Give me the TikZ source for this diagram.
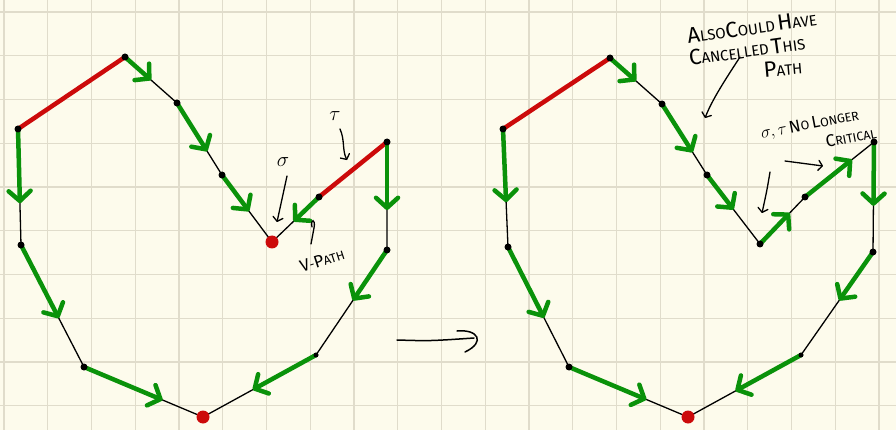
\documentclass[tikz,border=0pt]{standalone}
\usepackage{fontspec}
\setsansfont{Fira Sans}
\usetikzlibrary{arrows.meta,calc}
\definecolor{paper}{HTML}{FDFBEC}
\definecolor{gridc}{HTML}{E0DCCB}
\definecolor{pgreen}{HTML}{0A920A}
\definecolor{pred}{HTML}{CC0A0A}
\newcommand{\hcap}[2]{{\fontsize{22}{22}\selectfont #1}{\fontsize{15}{15}\selectfont #2}}
\newcommand{\hcaps}[2]{{\fontsize{17}{17}\selectfont #1}{\fontsize{12.5}{12.5}\selectfont #2}}
\tikzset{
  edge/.style={line width=1.3pt, black},
  redge/.style={line width=4.5pt, pred, line cap=round},
  garrow/.style={line width=4.5pt, pgreen, line cap=round, -{Straight Barb[length=10pt,width=22pt,round]}},
  vdot/.style={circle, fill=black, inner sep=0pt, minimum size=7pt},
  rdot/.style={circle, fill=pred, inner sep=0pt, minimum size=13pt},
  note/.style={line width=1.3pt, line cap=round, -{Straight Barb[length=4pt,width=10pt,round]}},
  plainnote/.style={line width=1.3pt, line cap=round},
  hw/.style={font=\sffamily, inner sep=0pt},
  gridline/.style={gridc, line width=1.1pt},
}
\begin{document}
\begin{tikzpicture}[x=1pt,y=-1pt]
\fill[paper] (0,0) rectangle (896,430);
\useasboundingbox (0,0) rectangle (896,430);
\begin{scope}
  \clip (0,0) rectangle (896,430);
  \foreach \i in {0,...,20} \draw[gridline] ({4+43.75*\i},0) -- ({4+43.75*\i},430);
  \foreach \j in {0,...,9} \draw[gridline] (0,{12+43.75*\j}) -- (896,{12+43.75*\j});
\end{scope}

% ---------- left polygon ----------
\coordinate (lA) at (18,129);
\coordinate (lB) at (125,57);
\coordinate (lC) at (177,103);
\coordinate (lD) at (222,175);
\coordinate (lE) at (272,242);
\coordinate (lF) at (319,197);
\coordinate (lG) at (387,142);
\coordinate (lH) at (387,250);
\coordinate (lI) at (316,355);
\coordinate (lJ) at (203,417);
\coordinate (lK) at (21,245);
\coordinate (lL) at (84,367);

\draw[edge] (lB) -- (lC) -- (lD) -- (lE) -- (lF);
\draw[edge] (lG) -- (lH) -- (lI) -- (lJ);
\draw[edge] (lA) -- (lK) -- (lL) -- (lJ);
\draw[redge] (lA) -- (lB);
\draw[redge] (lF) -- (lG);

\draw[garrow] (lB) -- ($(lB)!0.5!(lC)$);
\draw[garrow] (lC) -- ($(lC)!0.67!(lD)$);
\draw[garrow] (lD) -- ($(lD)!0.54!(lE)$);
\draw[garrow] (lF) -- ($(lF)!0.54!(lE)$);
\draw[garrow] (lG) -- ($(lG)!0.63!(lH)$);
\draw[garrow] (lH) -- ($(lH)!0.48!(lI)$);
\draw[garrow] (lI) -- ($(lI)!0.56!(lJ)$);
\draw[garrow] (lA) -- ($(lA)!0.64!(lK)$);
\draw[garrow] (lK) -- ($(lK)!0.6!(lL)$);
\draw[garrow] (lL) -- ($(lL)!0.66!(lJ)$);

\foreach \p in {lA,lB,lC,lD,lF,lG,lH,lK,lL} \node[vdot] at (\p) {};
\node[vdot, minimum size=5pt] at (lI) {};
\node[rdot] (lEdot) at (lE) {};
\node[rdot] (lJdot) at (lJ) {};

% left annotations
\node[font=\fontsize{20}{20}\selectfont] (tau) at (335,116) {$\tau$};
\draw[note] (340,129) .. controls (345,140) and (342,150) .. (347,160);
\node[font=\fontsize{20}{20}\selectfont] (sigma) at (283,162) {$\sigma$};
\draw[note] (287,176) -- (277,222);
\node[hw, rotate=18] (vpath) at (322,260) {\hcaps{V}{-}\hcaps{P}{ATH}};
\draw[plainnote] (311,244) .. controls (312,236) .. (314,228) .. controls (316,218) and (310,219) .. (312,227);

% middle arrow
\coordinate (m1) at (397,340);
\coordinate (m2) at (474,338);
\draw[plainnote, line width=1.5pt] (m1) .. controls (430,341) .. (m2);
\draw[plainnote, line width=1.5pt] (457,331) .. controls (478,329) and (486,342) .. (465,352);

% ---------- right polygon ----------
\coordinate (rA) at (503,129);
\coordinate (rB) at (610,58);
\coordinate (rC) at (662,104);
\coordinate (rD) at (707,175);
\coordinate (rE) at (760,244);
\coordinate (rF) at (805,197);
\coordinate (rG) at (874,142);
\coordinate (rH) at (873,252);
\coordinate (rI) at (801,355);
\coordinate (rJ) at (688,417);
\coordinate (rK) at (508,247);
\coordinate (rL) at (569,367);

\draw[edge] (rB) -- (rC) -- (rD) -- (rE) -- (rF) -- (rG) -- (rH) -- (rI) -- (rJ);
\draw[edge] (rA) -- (rK) -- (rL) -- (rJ);
\draw[redge] (rA) -- (rB);

\draw[garrow] (rB) -- ($(rB)!0.5!(rC)$);
\draw[garrow] (rC) -- ($(rC)!0.68!(rD)$);
\draw[garrow] (rD) -- ($(rD)!0.5!(rE)$);
\draw[garrow] (rE) -- ($(rE)!0.66!(rF)$);
\draw[garrow] (rF) -- ($(rF)!0.68!(rG)$);
\draw[garrow] (rG) -- ($(rG)!0.58!(rH)$);
\draw[garrow] (rH) -- ($(rH)!0.47!(rI)$);
\draw[garrow] (rI) -- ($(rI)!0.58!(rJ)$);
\draw[garrow] (rA) -- ($(rA)!0.62!(rK)$);
\draw[garrow] (rK) -- ($(rK)!0.59!(rL)$);
\draw[garrow] (rL) -- ($(rL)!0.65!(rJ)$);

\foreach \p in {rA,rB,rC,rD,rE,rF,rG,rH,rK,rL} \node[vdot] at (\p) {};
\node[vdot, minimum size=5pt] at (rI) {};
\node[rdot] (rJdot) at (rJ) {};

% right annotations
\node[hw, rotate=8] (also1) at (752,27) {\hcap{A}{LSO}\hcap{C}{OULD} \hcap{H}{AVE}};
\node[hw, rotate=8] (also2) at (747,50) {\hcap{C}{ANCELLED} \hcap{T}{HIS}};
\node[hw, rotate=5] (also3) at (783,68) {\hcap{P}{ATH}};
\draw[note] (740,57) .. controls (725,80) and (712,100) .. (705,118);

\node[hw, rotate=11] (crit1) at (810,125) {{\fontsize{17}{17}\selectfont$\sigma,\tau$} \hcaps{N}{O} \hcaps{L}{ONGER}};
\node[hw, rotate=11] (crit2) at (851,137) {\hcaps{C}{RITICAL}};
\draw[note] (770,172) .. controls (767,190) .. (762,213);
\draw[note] (785,161) -- (823,166);
\end{tikzpicture}
\end{document}
